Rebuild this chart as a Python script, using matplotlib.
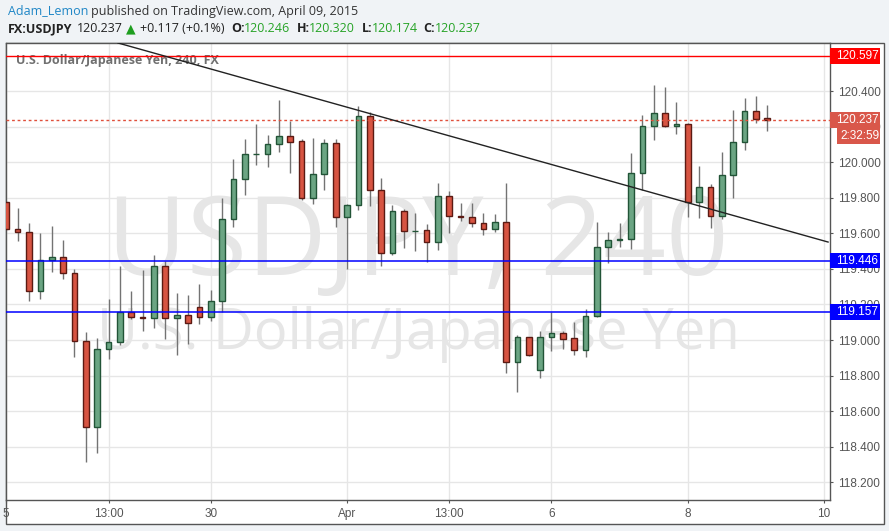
import numpy as np
import matplotlib.pyplot as plt
from matplotlib.patches import Rectangle
from matplotlib.transforms import blended_transform_factory

# 4h candles USDJPY
opens = [119.774, 119.622, 119.605, 119.274, 119.448, 119.465, 119.375, 118.993, 118.509, 118.948,
         118.987, 119.156, 119.128, 119.122, 119.414, 119.122, 119.139, 119.188, 119.128, 119.218,
         119.679, 119.903, 120.044, 120.044, 120.100, 120.147, 120.119, 119.797, 119.932, 120.106,
         119.690, 119.757, 120.258, 119.842, 119.487, 119.724, 119.611, 119.617, 119.549, 119.808,
         119.696, 119.690, 119.656, 119.622, 119.662, 118.878, 119.015, 118.830, 119.015, 119.038,
         119.010, 118.946, 119.133, 119.521, 119.561, 119.566, 119.937, 120.201, 120.274, 120.201,
         120.213, 119.774, 119.858, 119.695, 119.926, 120.111, 120.286, 120.246]
highs = [119.780, 119.740, 119.656, 119.600, 119.641, 119.562, 119.398, 119.045, 119.012, 119.231,
         119.416, 119.276, 119.394, 119.478, 119.444, 119.263, 119.253, 119.315, 119.281, 119.799,
         120.018, 120.130, 120.213, 120.153, 120.349, 120.233, 120.128, 120.134, 120.128, 120.128,
         119.763, 120.316, 120.284, 119.909, 119.759, 119.737, 119.714, 119.652, 119.883, 119.838,
         119.770, 119.770, 119.714, 119.709, 119.881, 119.028, 119.020, 119.051, 119.156, 119.051,
         119.101, 119.173, 119.662, 119.605, 119.656, 120.051, 120.265, 120.434, 120.422, 120.338,
         120.220, 119.977, 119.875, 120.057, 120.293, 120.361, 120.372, 120.320]
lows = [119.620, 119.559, 119.221, 119.233, 119.384, 119.345, 118.907, 118.316, 118.367, 118.893,
        118.972, 119.120, 119.053, 119.070, 119.006, 118.918, 118.980, 119.092, 119.109, 119.158,
        119.637, 119.814, 119.986, 119.975, 120.059, 119.941, 119.790, 119.767, 119.845, 119.637,
        119.399, 119.729, 119.755, 119.414, 119.480, 119.519, 119.502, 119.441, 119.508, 119.604,
        119.671, 119.637, 119.592, 119.609, 118.817, 118.710, 118.910, 118.789, 118.940, 118.951,
        118.918, 118.907, 119.130, 119.431, 119.525, 119.510, 119.843, 120.126, 120.200, 120.156,
        119.694, 119.688, 119.632, 119.682, 119.797, 120.066, 120.218, 120.174]
closes = [119.622, 119.605, 119.274, 119.448, 119.465, 119.375, 118.993, 118.509, 118.948, 118.987,
          119.156, 119.128, 119.122, 119.414, 119.122, 119.139, 119.094, 119.128, 119.218, 119.679,
          119.903, 120.044, 120.046, 120.100, 120.145, 120.115, 119.797, 119.932, 120.106, 119.690,
          119.757, 120.258, 119.842, 119.487, 119.724, 119.611, 119.615, 119.549, 119.808, 119.696,
          119.690, 119.656, 119.622, 119.662, 118.878, 119.015, 118.914, 119.015, 119.038, 119.008,
          118.946, 119.133, 119.521, 119.561, 119.566, 119.937, 120.201, 120.274, 120.201, 120.213,
          119.774, 119.858, 119.695, 119.926, 120.111, 120.286, 120.241, 120.237]

tick_pos = [0, 9, 18, 30, 39, 48, 60, 72]
tick_labels = ['5', '13:00', '30', 'Apr', '13:00', '6', '8', '10']
price_ticks = [118.2, 118.4, 118.6, 118.8, 119.0, 119.2, 119.4, 119.6, 119.8, 120.0, 120.2, 120.4]

resistance = 120.597
supports = [119.446, 119.157]
last_price = 120.237
trend_x = [9.83, 72.35]
trend_y = [120.670, 119.551]

W, H = 889, 531
fig = plt.figure(figsize=(W / 100, H / 100), dpi=100)
fig.patch.set_facecolor('#f0f3f6')

def fx(px):
    return px / W

def fy(py):
    return 1 - py / H

# white chart panel with frame
fig.add_artist(Rectangle((fx(6), fy(524)), fx(878), (524 - 42.7) / H, transform=fig.transFigure,
                         facecolor='white', edgecolor='#555555', lw=1, zorder=0))

ax = fig.add_axes([fx(6), fy(500), fx(824), (500 - 42.7) / H])
ax.set_facecolor('white')
ax.set_xlim(-0.026, 72.52)
ax.set_ylim(118.101, 120.6715)

ax.set_yticks(price_ticks)
ax.set_yticklabels(['%.3f' % p for p in price_ticks])
ax.yaxis.tick_right()
ax.set_xticks(tick_pos)
ax.set_xticklabels(tick_labels)
ax.tick_params(axis='both', colors='#555555', labelcolor='#555555', labelsize=8.5, length=2.5, width=0.8)
ax.tick_params(axis='y', pad=3)
ax.tick_params(axis='x', pad=3)
for lab in ax.get_xticklabels() + ax.get_yticklabels():
    lab.set_family('Liberation Sans')
ax.grid(True, color='#e6e6e6', lw=1)
ax.set_axisbelow(True)
for side in ['left', 'right', 'bottom', 'top']:
    ax.spines[side].set_color('#555555')
    ax.spines[side].set_linewidth(1)

# watermark
ax.text(0.5, 0.555, 'USDJPY, 240', transform=ax.transAxes, ha='center', va='center',
        fontsize=79, color='#e6e6e6', family='Open Sans', zorder=0.5)
ax.text(0.5, 0.362, 'U.S. Dollar/Japanese Yen', transform=ax.transAxes, ha='center', va='center',
        fontsize=40.5, color='#e6e6e6', family='Open Sans', zorder=0.5)
ax.text(fx(10) / fx(824), 0.962, 'U.S. Dollar/Japanese Yen, 240, FX', transform=ax.transAxes,
        ha='left', va='center', fontsize=9, color='#707070', weight='bold', family='Open Sans')

# candles
idx = np.arange(len(opens))
o = np.array(opens)
c = np.array(closes)
up = c >= o
ax.vlines(idx, lows, highs, color='#737373', lw=1, zorder=2)
bottoms = np.minimum(o, c)
heights = np.maximum(np.abs(c - o), 0.004)
ax.bar(idx[up], heights[up], bottom=bottoms[up], width=0.5, color='#6ba583',
       edgecolor='#225437', lw=1, zorder=3)
ax.bar(idx[~up], heights[~up], bottom=bottoms[~up], width=0.5, color='#d75442',
       edgecolor='#5b1a13', lw=1, zorder=3)

# drawings
ax.axhline(resistance, color='#ff0000', lw=1, zorder=4)
for s in supports:
    ax.axhline(s, color='#0000ff', lw=1.1, zorder=4)
ax.axhline(last_price, color='#e0503c', lw=1, ls=(0, (2, 2)), zorder=4)
ax.plot(trend_x, trend_y, color='#222222', lw=1, zorder=4)

# price labels on the scale
tr = blended_transform_factory(ax.transAxes, ax.transData)
bw = 50 / 824
bh = 15.5 / 177.9
for val, col in [(resistance, '#ff0000'), (last_price, '#d9574a'), (supports[0], '#0000ff'), (supports[1], '#0000ff')]:
    ax.add_patch(Rectangle((1.0, val - bh / 2), bw, bh, transform=tr, facecolor=col,
                           edgecolor='none', clip_on=False, zorder=10))
    ax.text(1.0 + 6 / 824, val, '%.3f' % val, transform=tr, ha='left', va='center',
            fontsize=8.5, color='white', family='Liberation Sans', clip_on=False, zorder=11)
t_y = last_price - 16.5 / 177.9
ax.add_patch(Rectangle((1.0 + 7 / 824, t_y - 8 / 177.9), 43 / 824, 16 / 177.9, transform=tr,
                       facecolor='#d9574a', edgecolor='none', clip_on=False, zorder=10))
ax.text(1.0 + 10 / 824, t_y, '2:32:59', transform=tr, ha='left', va='center',
        fontsize=8.5, color='white', family='Liberation Sans', clip_on=False, zorder=11)

# header
fig.text(fx(8), fy(11), 'Adam_Lemon', ha='left', va='center', fontsize=9,
         color='#1f86c6', family='Open Sans')
fig.text(fx(91), fy(11), 'published on TradingView.com, April 09, 2015', ha='left', va='center',
         fontsize=9, color='#333333', family='Open Sans')
green = '#26a326'
row = fy(29)
fig.text(fx(8), row, 'FX:USDJPY', ha='left', va='center', fontsize=9, weight='bold',
         color='#222222', family='Open Sans')
fig.text(fx(77), row, '120.237', ha='left', va='center', fontsize=9, color='#222222', family='Open Sans')
fig.text(fx(126), row, '\u25B2', ha='left', va='center', fontsize=9, color='#1f9e1f', family='DejaVu Sans')
fig.text(fx(140), row, '+0.117 (+0.1%)', ha='left', va='center', fontsize=9, color='#222222',
         family='Open Sans')
for lx, lab, vx, val in [(231, 'O:', 244, '120.246'), (297, 'H:', 309, '120.320'),
                         (362, 'L:', 372, '120.174'), (423, 'C:', 435, '120.237')]:
    fig.text(fx(lx), row, lab, ha='left', va='center', fontsize=9, weight='bold',
             color='#222222', family='Open Sans')
    fig.text(fx(vx), row, val, ha='left', va='center', fontsize=9, color=green, family='Open Sans')

fig.savefig('out.png', dpi=100, facecolor=fig.get_facecolor())
